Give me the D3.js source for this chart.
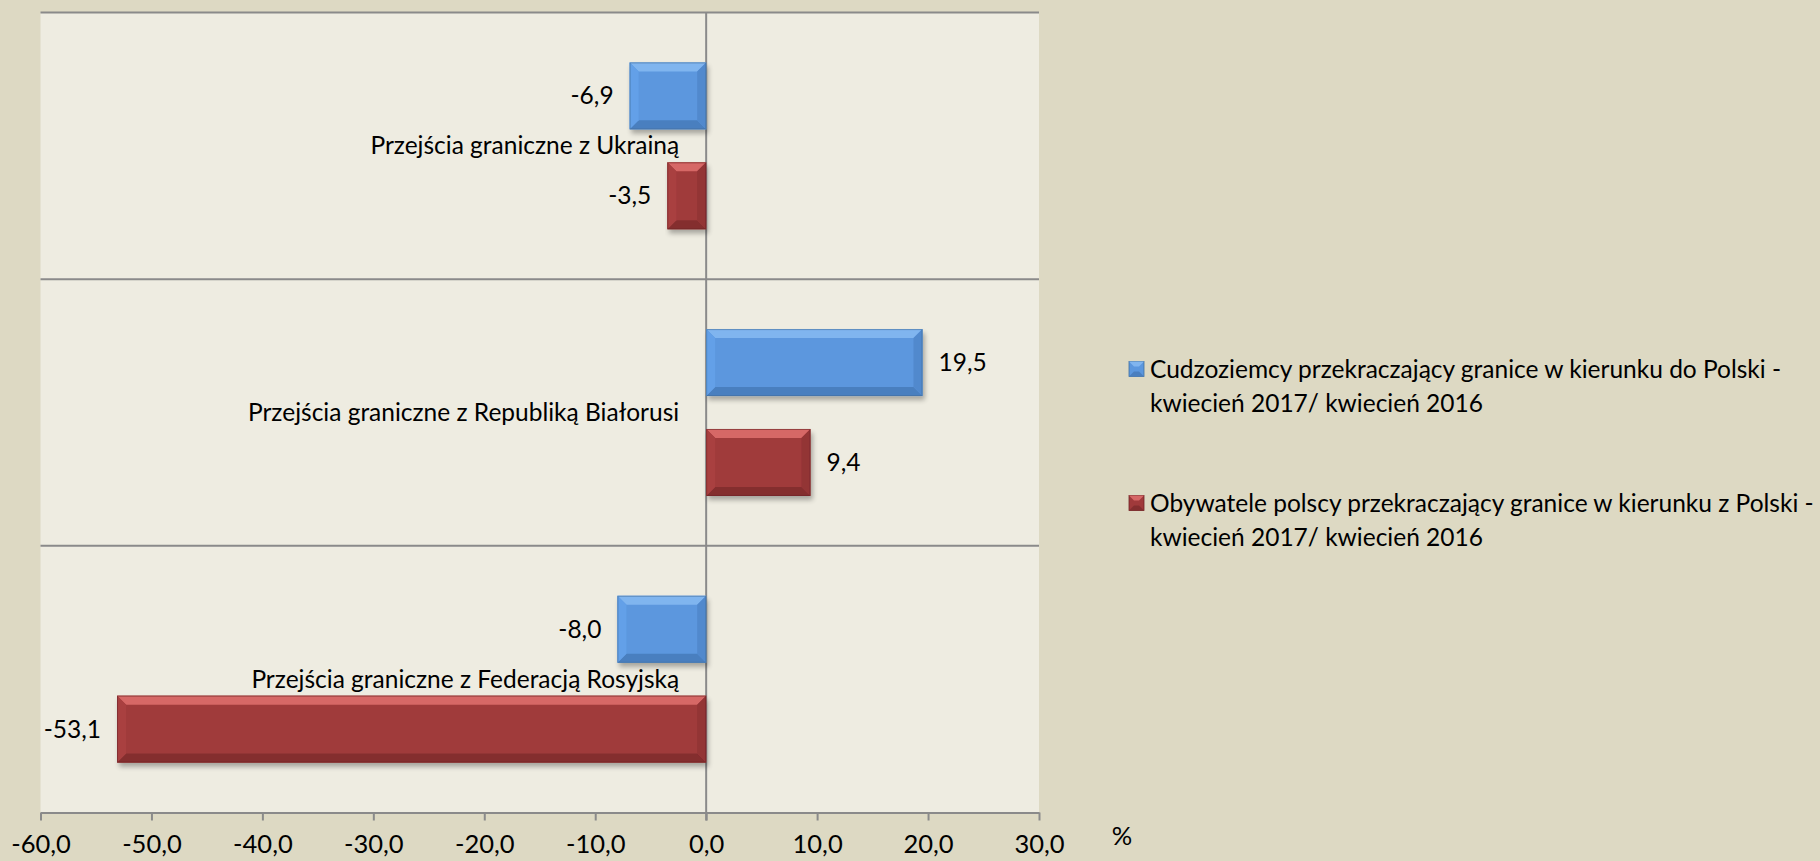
<!DOCTYPE html>
<html>
<head>
<meta charset="utf-8">
<script src="https://cdn.jsdelivr.net/npm/d3@7"></script>
<style>
  html, body { margin: 0; padding: 0; background: #DDD9C3; }
  svg { display: block; }
  text { font-family: Lato, "Open Sans", sans-serif; fill: #000; }
</style>
</head>
<body>
<svg id="chart" width="1820" height="861"></svg>
<script>
var categories = ['Przejścia graniczne z Ukrainą', 'Przejścia graniczne z Republiką Białorusi', 'Przejścia graniczne z Federacją Rosyjską'];
var seriesNames = ['Cudzoziemcy przekraczający granice w kierunku do Polski -', 'Obywatele polscy przekraczający granice w kierunku z Polski -'];
var seriesSub = ['kwiecień 2017/ kwiecień 2016', 'kwiecień 2017/ kwiecień 2016'];
var foreigners = [-6.9, 19.5, -8.0];
var polish = [-3.5, 9.4, -53.1];
var xTicks = [-60, -50, -40, -30, -20, -10, 0, 10, 20, 30];

var colors = [
  {main: '#5B97DE', light: '#80B5EF', dark: '#4A7FBF', left: '#63A0E8', right: '#5189CD', edge: '#41709F'},
  {main: '#A03A3B', light: '#D66766', dark: '#842E2F', left: '#A94041', right: '#933536', edge: '#6E2526'}
];

var svg = d3.select('#chart');
var plotL = 40.5, plotR = 1039, plotT = 12.5, plotB = 812.5;
var fontSize = 24.5;

var x = d3.scaleLinear().domain([-60, 30]).range([plotL, plotR]);
var y0 = d3.scaleBand().domain(categories).range([plotT, plotB]);
var y1 = d3.scaleBand().domain([0, 1]).range([0, y0.bandwidth()]).paddingInner(0.33).paddingOuter(0.5);

var defs = svg.append('defs');
var f = defs.append('filter').attr('id', 'shadow').attr('x', '-10%').attr('y', '-20%').attr('width', '130%').attr('height', '160%');
f.append('feGaussianBlur').attr('in', 'SourceAlpha').attr('stdDeviation', 2.5);
f.append('feOffset').attr('dx', 2).attr('dy', 4).attr('result', 'b');
f.append('feComponentTransfer').append('feFuncA').attr('type', 'linear').attr('slope', 0.3);
var fm = f.append('feMerge');
fm.append('feMergeNode');
fm.append('feMergeNode').attr('in', 'SourceGraphic');

// plot area
svg.append('rect')
  .attr('x', plotL).attr('y', plotT)
  .attr('width', plotR - plotL).attr('height', plotB - plotT)
  .attr('fill', '#EEECE1');

// horizontal grid lines between categories
var gridY = categories.map(function(c) { return y0(c); });
svg.append('g').selectAll('line').data(gridY).enter().append('line')
  .attr('x1', plotL).attr('x2', plotR)
  .attr('y1', function(d) { return d; }).attr('y2', function(d) { return d; })
  .attr('stroke', '#8A8A8A').attr('stroke-width', 2);

// zero line
svg.append('line')
  .attr('x1', x(0)).attr('x2', x(0))
  .attr('y1', plotT).attr('y2', plotB + 8)
  .attr('stroke', '#8A8A8A').attr('stroke-width', 2);

// bars
var rows = [];
categories.forEach(function(c, i) {
  rows.push({cat: c, s: 0, v: foreigners[i]});
  rows.push({cat: c, s: 1, v: polish[i]});
});

function bevelBar(g, d) {
  var c = colors[d.s];
  var x0 = Math.min(x(0), x(d.v)), x1 = Math.max(x(0), x(d.v));
  var yt = y0(d.cat) + y1(d.s), h = y1.bandwidth(), yb = yt + h;
  var b = Math.min(9, (x1 - x0) / 2);
  var bar = g.append('g').attr('filter', 'url(#shadow)');
  bar.append('rect').attr('x', x0).attr('y', yt).attr('width', x1 - x0).attr('height', h)
    .attr('fill', c.main);
  bar.append('polygon').attr('fill', c.light)
    .attr('points', [[x0, yt], [x1, yt], [x1 - b, yt + b], [x0 + b, yt + b]].join(' '));
  bar.append('polygon').attr('fill', c.dark)
    .attr('points', [[x0, yb], [x1, yb], [x1 - b, yb - b], [x0 + b, yb - b]].join(' '));
  bar.append('polygon').attr('fill', c.left)
    .attr('points', [[x0, yt], [x0 + b, yt + b], [x0 + b, yb - b], [x0, yb]].join(' '));
  bar.append('polygon').attr('fill', c.right)
    .attr('points', [[x1, yt], [x1 - b, yt + b], [x1 - b, yb - b], [x1, yb]].join(' '));
  bar.append('rect').attr('x', x0 + 0.5).attr('y', yt + 0.5).attr('width', x1 - x0 - 1).attr('height', h - 1)
    .attr('fill', 'none').attr('stroke', c.edge).attr('stroke-width', 1).attr('opacity', 0.6);
}

var barG = svg.append('g');
rows.forEach(function(d) { bevelBar(barG, d); });

// value labels
svg.append('g').selectAll('text').data(rows).enter().append('text')
  .attr('x', function(d) { return d.v < 0 ? x(d.v) - 16 : x(d.v) + 16; })
  .attr('y', function(d) { return y0(d.cat) + y1(d.s) + y1.bandwidth() / 2; })
  .attr('dy', '0.35em')
  .attr('text-anchor', function(d) { return d.v < 0 ? 'end' : 'start'; })
  .style('font-size', fontSize + 'px')
  .text(function(d) { return d.v.toFixed(1).replace('.', ','); });

// category labels next to zero axis
svg.append('g').selectAll('text').data(categories).enter().append('text')
  .attr('x', x(0) - 27)
  .attr('y', function(d) { return y0(d) + y0.bandwidth() / 2; })
  .attr('dy', '0.35em')
  .attr('text-anchor', 'end')
  .style('font-size', fontSize + 'px')
  .text(function(d) { return d; });

// x axis
var axis = d3.axisBottom(x)
  .tickValues(xTicks)
  .tickSizeInner(8).tickSizeOuter(0)
  .tickPadding(14)
  .tickFormat(function(d) { return d.toFixed(1).replace('.', ','); });
var ax = svg.append('g').attr('transform', 'translate(0,' + plotB + ')').call(axis);
ax.select('.domain').attr('stroke', '#8A8A8A').attr('stroke-width', 2);
ax.selectAll('.tick line').attr('stroke', '#8A8A8A').attr('stroke-width', 2);
ax.selectAll('.tick text').style('font-size', '25.5px').style('font-family', 'Lato, sans-serif').attr('fill', '#000');

svg.append('text').attr('x', 1122).attr('y', 836).attr('dy', '0.35em')
  .attr('text-anchor', 'middle').style('font-size', '25.5px').text('%');

// legend
var legend = svg.append('g');
var legendY = [369, 503];
seriesNames.forEach(function(name, i) {
  var c = colors[i];
  var g = legend.append('g').attr('transform', 'translate(1129,' + legendY[i] + ')');
  g.append('rect').attr('x', 0).attr('y', -7.5).attr('width', 15).attr('height', 15).attr('fill', c.main).attr('stroke', c.edge).attr('stroke-width', 0.8);
  g.append('polygon').attr('fill', c.light).attr('points', '0,-7.5 15,-7.5 10,-2.5 5,-2.5');
  g.append('polygon').attr('fill', c.dark).attr('points', '0,7.5 15,7.5 10,2.5 5,2.5');
  g.append('text').attr('x', 21).attr('y', 0).attr('dy', '0.35em').style('font-size', fontSize + 'px').text(name);
  g.append('text').attr('x', 21).attr('y', 34).attr('dy', '0.35em').style('font-size', fontSize + 'px').text(seriesSub[i]);
});
</script>
</body>
</html>
